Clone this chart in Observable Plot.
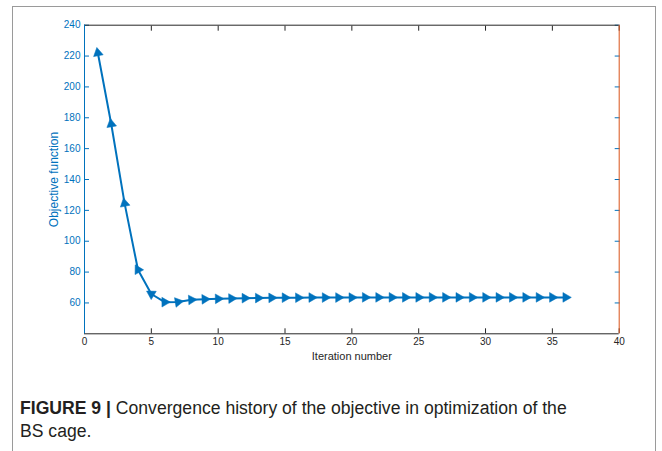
<!DOCTYPE html>
<html>
<head>
<meta charset="utf-8">
<script src="https://cdn.jsdelivr.net/npm/d3@7"></script>
<script src="https://cdn.jsdelivr.net/npm/@observablehq/plot@0.6"></script>
<style>
  body { margin: 0; background: #fff; width: 662px; height: 451px; overflow: hidden; position: relative;
         font-family: "Liberation Sans", Arial, Helvetica, sans-serif; }
  #frame { position: absolute; left: 12px; top: 6px; width: 642px; height: 470px;
           border: 1.5px solid #9a9a9a; border-bottom: none; }
  #chart { position: absolute; left: 0; top: 0; }
  #caption { position: absolute; left: 20px; top: 397px; font-size: 17.6px; line-height: 23px; color: #231f20; }
  #caption b { font-weight: bold; }
</style>
</head>
<body>
<div id="frame"></div>
<div id="chart"></div>
<div id="caption"><b>FIGURE 9 |</b> Convergence history of the objective in optimization of the<br>BS cage.</div>
<script>
// Objective value recorded at each optimization iteration (iterations 1..36)
const objective = [
  222.0, 176.0, 124.5, 81.5, 65.8, 60.5, 60.6, 62.0, 62.4, 62.7,
  62.9, 63.1, 63.2, 63.3, 63.4, 63.4, 63.5, 63.5, 63.5, 63.5,
  63.6, 63.6, 63.6, 63.6, 63.6, 63.6, 63.6, 63.6, 63.6, 63.6,
  63.6, 63.6, 63.6, 63.6, 63.6, 63.6
];
const xTicks = [0, 5, 10, 15, 20, 25, 30, 35, 40];
const yTicks = [60, 80, 100, 120, 140, 160, 180, 200, 220, 240];
const xLabel = "Iteration number";
const yLabel = "Objective function";

const blue = "#0072BD", orange = "#D95319", ink = "#262626";
const W = 662, H = 451;
const mL = 84, mR = 43.3, mT = 24.7, mB = 117.7;
const xDomain = [0, 40], yDomain = [40, 240];

const data = objective.map((v, i) => ({iter: i + 1, value: v}));

// Arrow-head direction for each point: follows the segment to the next point,
// pointing back up the curve while it is still descending.
const kx = (W - mL - mR) / (xDomain[1] - xDomain[0]);
const ky = (H - mT - mB) / (yDomain[1] - yDomain[0]);
data.forEach((d, i) => {
  const a = i < data.length - 1 ? d : data[i - 1];
  const b = i < data.length - 1 ? data[i + 1] : d;
  let dx = (b.iter - a.iter) * kx, dy = -(b.value - a.value) * ky; // screen coords
  if (dy > 0.5) { dx = -dx; dy = -dy; }
  d.angle = Math.atan2(dx, -dy) * 180 / Math.PI;
});

const chart = Plot.plot({
  width: W, height: H,
  marginLeft: mL, marginRight: mR, marginTop: mT, marginBottom: mB,
  style: {background: "transparent", fontFamily: "Liberation Sans, Arial, Helvetica, sans-serif"},
  x: {domain: xDomain},
  y: {domain: yDomain},
  marks: [
    Plot.axisX(xTicks, {anchor: "bottom", tickSize: -5, tickPadding: 9, fontSize: 10, color: ink, label: null}),
    Plot.axisX(xTicks, {anchor: "top", tickSize: -5, tickFormat: () => "", color: ink, label: null}),
    Plot.axisY(yTicks, {anchor: "left", tickSize: -5, tickPadding: 9, fontSize: 10, color: blue, label: null}),
    Plot.axisY(yTicks, {anchor: "right", tickSize: -5, tickFormat: () => "", color: blue, label: null}),
    Plot.ruleY([yDomain[0]], {stroke: ink}),
    Plot.ruleY([yDomain[1]], {stroke: ink}),
    Plot.ruleX([xDomain[0]], {stroke: blue}),
    Plot.ruleX([xDomain[1]], {stroke: orange}),
    Plot.line(data, {x: "iter", y: "value", stroke: blue, strokeWidth: 2}),
    Plot.dot(data, {x: "iter", y: "value", symbol: "triangle", r: 3.6, fill: blue, stroke: blue, strokeWidth: 0.5, rotate: "angle"}),
    Plot.text([xLabel], {frameAnchor: "bottom", dy: 26, fontSize: 11, fill: ink}),
    Plot.text([yLabel], {frameAnchor: "left", textAnchor: "middle", dx: -30, rotate: -90, fontSize: 12, fill: blue})
  ]
});
document.getElementById("chart").appendChild(chart);
</script>
</body>
</html>
